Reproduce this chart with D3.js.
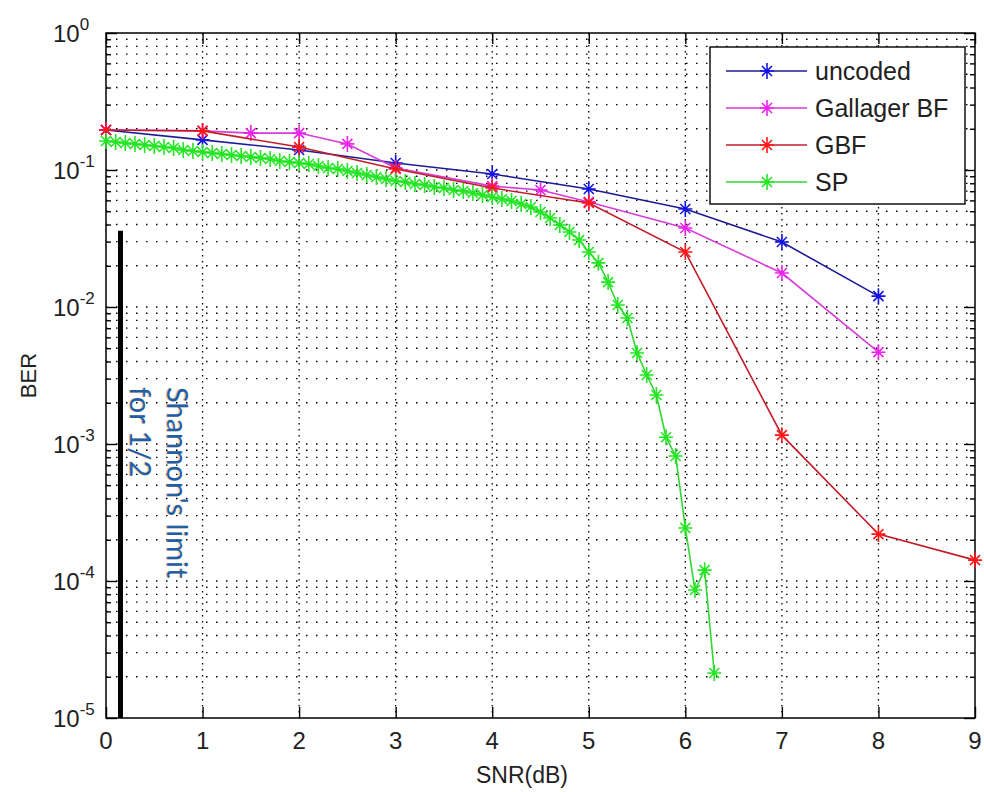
<!DOCTYPE html>
<html><head><meta charset="utf-8">
<script src="https://cdn.jsdelivr.net/npm/d3@7"></script>
<style>body{margin:0;background:#fff}</style>
</head><body>
<svg id="c" width="984" height="792"></svg>
<script>
// ---------- DATA ----------
const xTickValues = [0,1,2,3,4,5,6,7,8,9];
const yTickExponents = [0,-1,-2,-3,-4,-5];
const seriesNames = ["uncoded","Gallager BF","GBF","SP"];

const uncodedX = [0,1,2,3,4,5,6,7,8];
const uncodedY = [0.196,0.166,0.140,0.1125,0.0935,0.0727,0.0519,0.0298,0.0120];

const gallagerX = [0,1,1.5,2,2.5,3,4,4.5,5,6,7,8];
const gallagerY = [0.196,0.193,0.186,0.186,0.155,0.1035,0.0763,0.0714,0.0585,0.0377,0.0177,0.00468];

const gbfX = [0,1,2,3,4,5,6,7,8,9];
const gbfY = [0.196,0.193,0.147,0.1018,0.0739,0.0575,0.0252,0.00116,0.00022,0.000142];

const spX = [0,0.1,0.2,0.3,0.4,0.5,0.6,0.7,0.8,0.9,1.0,1.1,1.2,1.3,1.4,1.5,1.6,1.7,1.8,1.9,
  2.0,2.1,2.2,2.3,2.4,2.5,2.6,2.7,2.8,2.9,3.0,3.1,3.2,3.3,3.4,3.5,3.6,3.7,3.8,3.9,
  4.0,4.1,4.2,4.3,4.4,4.5,4.6,4.7,4.8,4.9,5.0,5.1,5.2,5.3,5.4,5.5,5.6,5.7,5.8,5.9,
  6.0,6.1,6.2,6.3];
const spY = [0.1628,0.1601,0.1575,0.1548,0.1522,0.1497,0.1472,0.1447,0.1400,0.1376,
  0.1353,0.1331,0.1309,0.1287,0.1265,0.1244,0.1224,0.1203,0.1163,0.1144,
  0.1125,0.1106,0.1070,0.1034,0.1017,0.0983,0.0951,0.0919,0.0889,0.0860,
  0.0831,0.0818,0.0790,0.0777,0.0751,0.0739,0.0714,0.0703,0.0679,0.0657,
  0.0635,0.0614,0.0594,0.0565,0.0537,0.0494,0.0446,0.0397,0.0353,0.0308,
  0.0252,0.0210,0.0152,0.01035,0.00832,0.00462,0.00319,0.00228,0.00112,0.000817,
  0.000244,0.0000859,0.000120,0.0000213];

const shannonX = 0.15;
const shannonTop = 0.036;
const shannonLines = ["Shannon's limit","for 1/2"];

// ---------- LAYOUT ----------
const L = 106, R = 975, T = 33, B = 718;
const svg = d3.select("#c");
const x = d3.scaleLinear().domain([0,9]).range([L,R]);
const y = d3.scaleLog().domain([1e-5,1]).range([B,T]);
const font = "'Liberation Sans', Arial, Helvetica, sans-serif";

svg.append("rect").attr("width",984).attr("height",792).attr("fill","#fff");

// grid
const minorVals = [];
for (let e=-5; e<0; e++) for (let m=1; m<=9; m++) minorVals.push(m*Math.pow(10,e));
const g = svg.append("g");
g.selectAll("line.h").data(minorVals.filter(v=>v>1e-5 && v<1)).enter().append("line")
  .attr("x1",L).attr("x2",R).attr("y1",d=>y(d)).attr("y2",d=>y(d))
  .attr("stroke","#000").attr("stroke-width",1.3).attr("stroke-dasharray","1.5 8.5");
g.selectAll("line.v").data(xTickValues.filter(v=>v>0 && v<9)).enter().append("line")
  .attr("x1",d=>x(d)).attr("x2",d=>x(d)).attr("y1",T).attr("y2",B)
  .attr("stroke","#000").attr("stroke-width",1.3).attr("stroke-dasharray","1.5 4.5");

// axes (ticks inward) via d3 axes
const xAxisB = d3.axisBottom(x).tickValues(xTickValues).tickSize(-11).tickFormat("");
const xAxisT = d3.axisTop(x).tickValues(xTickValues).tickSize(-11).tickFormat("");
svg.append("g").attr("transform",`translate(0,${B})`).call(xAxisB);
svg.append("g").attr("transform",`translate(0,${T})`).call(xAxisT);
const majors = yTickExponents.map(e=>Math.pow(10,e));
const minorsOnly = minorVals.filter(v=>!majors.some(m=>Math.abs(m-v)/v<1e-9));
[["l",L],["r",R]].forEach(([side,px])=>{
  const ax = side==="l" ? d3.axisLeft(y) : d3.axisRight(y);
  svg.append("g").attr("transform",`translate(${px},0)`)
    .call(ax.tickValues(majors).tickSize(-11).tickFormat(""));
  const ax2 = side==="l" ? d3.axisLeft(y) : d3.axisRight(y);
  svg.append("g").attr("transform",`translate(${px},0)`)
    .call(ax2.tickValues(minorsOnly).tickSize(-5).tickFormat(""));
});
svg.selectAll(".domain").remove();
svg.selectAll(".tick line").attr("stroke","#000").attr("stroke-width",1.4);
svg.append("rect").attr("x",L).attr("y",T).attr("width",R-L).attr("height",B-T)
  .attr("fill","none").attr("stroke","#000").attr("stroke-width",1.5);

// tick labels
svg.selectAll("text.xt").data(xTickValues).enter().append("text")
  .attr("x",d=>x(d)).attr("y",B+31).attr("text-anchor","middle")
  .attr("font-family",font).attr("font-size",24).attr("fill","#222").text(d=>d);
const yl = svg.selectAll("text.yt").data(yTickExponents).enter().append("text")
  .attr("x",53).attr("y",d=>y(Math.pow(10,d))+9)
  .attr("font-family",font).attr("font-size",24).attr("fill","#222");
yl.append("tspan").text("10");
yl.append("tspan").attr("dy",-12).attr("font-size",17).text(d=>d===0?"0":String(d));

// axis labels
svg.append("text").attr("x",522).attr("y",783).attr("text-anchor","middle")
  .attr("font-family",font).attr("font-size",23).attr("fill","#222").text("SNR(dB)");
svg.append("text").attr("transform",`translate(36,${(T+B)/2}) rotate(-90)`)
  .attr("text-anchor","middle").attr("font-family",font).attr("font-size",22)
  .attr("fill","#222").text("BER");

// Shannon limit
svg.append("line").attr("x1",x(shannonX)).attr("x2",x(shannonX))
  .attr("y1",y(shannonTop)).attr("y2",y(1e-5)).attr("stroke","#000").attr("stroke-width",5);
const stFont = "Lato, 'Open Sans', sans-serif";
[["#e08a20",-1,0.55],["#1f5ea8",0,1]].forEach(([col,dx,op])=>{
  shannonLines.forEach((t,i)=>{
    svg.append("text")
      .attr("transform",`translate(${167 - i*37 + dx},387) rotate(90)`)
      .attr("font-family",stFont).attr("font-size",29).attr("fill",col).attr("opacity",op)
      .text(t);
  });
});

// series
const star = "M0,-8V8M-7,0H7M-5,-5L5,5M-5,5L5,-5";
const series = [
  {name:seriesNames[0], xs:uncodedX, ys:uncodedY, line:"#1c1c96", mark:"#1414e6"},
  {name:seriesNames[1], xs:gallagerX, ys:gallagerY, line:"#d63cd6", mark:"#ee22ee"},
  {name:seriesNames[2], xs:gbfX, ys:gbfY, line:"#c21e2a", mark:"#ff1616"},
  {name:seriesNames[3], xs:spX, ys:spY, line:"#2fd82f", mark:"#22e622"}
];
const lineGen = d3.line().x(d=>x(d[0])).y(d=>y(d[1]));
series.forEach(s=>{
  const pts = s.xs.map((v,i)=>[v,s.ys[i]]);
  const gg = svg.append("g");
  gg.append("path").attr("d",lineGen(pts)).attr("fill","none")
    .attr("stroke",s.line).attr("stroke-width",1.6);
  gg.selectAll("path.m").data(pts).enter().append("path")
    .attr("d",star).attr("transform",d=>`translate(${x(d[0])},${y(d[1])})`)
    .attr("fill","none").attr("stroke",s.mark).attr("stroke-width",1.6);
});

// legend
const lg = svg.append("g");
lg.append("rect").attr("x",710).attr("y",47).attr("width",255).attr("height",157)
  .attr("fill","#fff").attr("stroke","#000").attr("stroke-width",1.4);
series.forEach((s,i)=>{
  const ry = 71 + i*37;
  lg.append("line").attr("x1",726).attr("x2",807).attr("y1",ry).attr("y2",ry)
    .attr("stroke",s.line).attr("stroke-width",1.6);
  lg.append("path").attr("d",star).attr("transform",`translate(767,${ry})`)
    .attr("fill","none").attr("stroke",s.mark).attr("stroke-width",1.6);
  lg.append("text").attr("x",815).attr("y",ry+9).attr("font-family",font)
    .attr("font-size",25).attr("fill","#222").text(s.name);
});
</script>
</body></html>
